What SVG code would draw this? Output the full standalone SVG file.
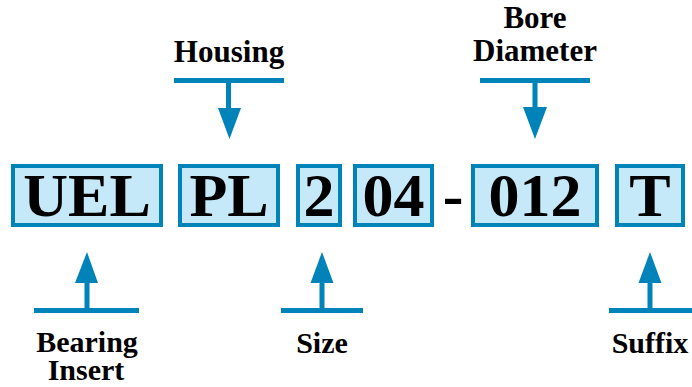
<svg xmlns="http://www.w3.org/2000/svg" width="692" height="387" viewBox="0 0 692 387">
<style>
.box{fill:#C6E9F9;stroke:#0083B9;stroke-width:4}
.big{font-family:'Liberation Serif',Tinos,'Times New Roman',Times,serif;font-weight:700;font-size:62px;fill:#000;text-anchor:middle}
.lbl{font-family:'Liberation Serif',Tinos,'Times New Roman',Times,serif;font-weight:700;font-size:30px;fill:#000;text-anchor:middle}
.ln{stroke:#0083B9;stroke-width:5;fill:none}
.ah{fill:#0083B9}
</style>
<rect width="692" height="387" fill="#fff"/>
<g id="uel"><rect class="box" x="13" y="166" width="148" height="59"/><text class="big" x="87" y="216">UEL</text></g>
<g id="pl"><rect class="box" x="180" y="166" width="98" height="59"/><text class="big" x="229" y="216">PL</text></g>
<g id="size2"><rect class="box" x="298" y="166" width="42" height="59"/><text class="big" x="319" y="216">2</text></g>
<g id="n04"><rect class="box" x="355" y="166" width="77" height="59"/><text class="big" x="393.5" y="216">04</text></g>
<g id="dash"><text class="big" x="453" y="216">-</text></g>
<g id="n012"><rect class="box" x="473" y="166" width="124" height="59"/><text class="big" x="535" y="216">012</text></g>
<g id="t"><rect class="box" x="617" y="166" width="66" height="59"/><text class="big" x="650" y="216">T</text></g>
<g id="housing"><text class="lbl" x="229" y="62" style="font-size:31px">Housing</text></g>
<g id="bore"><text class="lbl" x="535" y="28" style="font-size:31px">Bore</text><text class="lbl" x="535" y="61" style="font-size:31px">Diameter</text></g>
<g id="bearing"><text class="lbl" x="87" y="352">Bearing</text><text class="lbl" x="86" y="380">Insert</text></g>
<g id="sizelbl"><text class="lbl" x="322" y="353">Size</text></g>
<g id="suffix"><text class="lbl" x="650" y="353">Suffix</text></g>
<g id="connectors">
<path class="ln" d="M174 80.5H284M228.5 80.5V110"/>
<polygon class="ah" points="218,108 241,108 229.5,139"/>
<path class="ln" d="M480 80.5H590M535 80.5V110"/>
<polygon class="ah" points="523,107 547,107 535,139"/>
<path class="ln" d="M34 310.5H139M87 310.5V281"/>
<polygon class="ah" points="75,283 98,283 87,252"/>
<path class="ln" d="M281 310.5H363M322 310.5V281"/>
<polygon class="ah" points="310.5,283 333.5,283 322,252"/>
<path class="ln" d="M609 310.5H692M650 310.5V281"/>
<polygon class="ah" points="638.5,283 661.5,283 650,252"/>
</g>
</svg>
